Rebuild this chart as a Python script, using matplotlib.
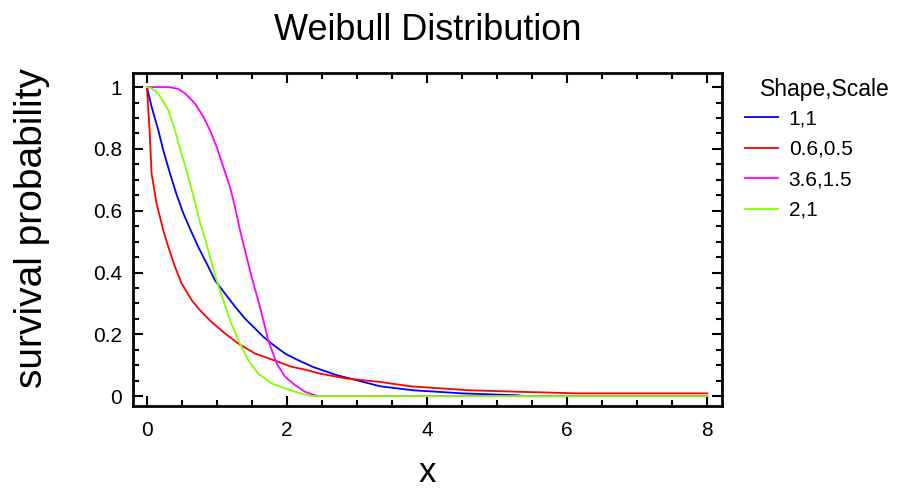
import numpy as np
import matplotlib
matplotlib.use('Agg')
import matplotlib.pyplot as plt
from matplotlib.ticker import MultipleLocator

plt.rcParams['font.family'] = ['Liberation Sans', 'DejaVu Sans']

# survival curves (x, S(x))
x_11 = [0, 0.067, 0.162, 0.233, 0.329, 0.424, 0.519, 0.638, 0.733, 0.852, 0.971, 1.114, 1.257,
        1.4, 1.543, 1.662, 1.781, 1.971, 2.162, 2.376, 2.71, 2.85, 3.33, 3.8, 4.09, 4.5,
        5.28, 5.4, 8.0]
s_11 = [1, 0.936, 0.861, 0.796, 0.721, 0.652, 0.592, 0.53, 0.483, 0.43, 0.375, 0.332, 0.29,
        0.251, 0.219, 0.192, 0.17, 0.138, 0.116, 0.094, 0.068, 0.06, 0.032, 0.019, 0.015, 0.009,
        0.003, 0.0, 0.0]

x_0605 = [0, 0.038, 0.067, 0.138, 0.186, 0.233, 0.305, 0.4, 0.495, 0.638, 0.757, 0.924, 1.114,
          1.305, 1.543, 1.876, 2.067, 2.257, 2.47, 2.85, 3.33, 3.76, 4.14, 4.61, 5.19, 6.14, 8.0]
s_0605 = [1, 0.861, 0.72, 0.623, 0.58, 0.537, 0.483, 0.419, 0.365, 0.311, 0.278, 0.24, 0.203,
          0.17, 0.138, 0.111, 0.095, 0.086, 0.073, 0.057, 0.046, 0.032, 0.026, 0.019, 0.015, 0.009, 0.009]

x_3615 = [0, 0.305, 0.448, 0.543, 0.686, 0.805, 0.9, 0.995, 1.09, 1.186, 1.257, 1.329, 1.4,
          1.495, 1.614, 1.733, 1.852, 1.971, 2.114, 2.257, 2.376, 2.45, 8.0]
s_3615 = [1, 1, 0.994, 0.98, 0.947, 0.904, 0.861, 0.807, 0.742, 0.677, 0.613, 0.537, 0.472,
          0.386, 0.289, 0.181, 0.106, 0.063, 0.036, 0.014, 0.005, 0.0, 0.0]

x_21 = [0, 0.067, 0.162, 0.305, 0.4, 0.471, 0.543, 0.614, 0.686, 0.757, 0.829, 0.9, 0.995,
        1.09, 1.186, 1.305, 1.448, 1.59, 1.781, 1.971, 2.162, 2.33, 2.4, 8.0]
s_21 = [1, 0.996, 0.98, 0.926, 0.861, 0.8, 0.748, 0.69, 0.628, 0.563, 0.51, 0.451, 0.375,
        0.311, 0.246, 0.181, 0.116, 0.073, 0.041, 0.025, 0.011, 0.001, 0.0, 0.0]

labels = ['1,1', '0.6,0.5', '3.6,1.5', '2,1']
colors = ['#0000ff', '#ff0000', '#ff00ff', '#80ff00']

fig = plt.figure(figsize=(8.98, 4.91), dpi=100)
ax = fig.add_axes([0.148, 0.173, 0.656, 0.678])

series = [(x_11, s_11), (x_0605, s_0605), (x_3615, s_3615), (x_21, s_21)]
for (xs, ys), lab, c in zip(series, labels, colors):
    ax.plot(xs, ys, color=c, lw=1.3, label=lab)

ax.set_xlim(-0.2, 8.21)
ax.set_ylim(-0.032, 1.045)
ax.xaxis.set_major_locator(MultipleLocator(2))
ax.xaxis.set_minor_locator(MultipleLocator(0.5))
ax.yaxis.set_major_locator(MultipleLocator(0.2))
ax.yaxis.set_minor_locator(MultipleLocator(0.05))
ax.set_yticks([0, 0.2, 0.4, 0.6, 0.8, 1.0])
ax.set_yticklabels(['0', '0.2', '0.4', '0.6', '0.8', '1'])
ax.tick_params(which='both', direction='in', top=True, right=True, width=1.5, labelsize=15)
ax.tick_params(which='major', length=7)
ax.tick_params(which='minor', length=4)
ax.tick_params(axis='x', pad=11)
ax.tick_params(axis='y', pad=8)
for sp in ax.spines.values():
    sp.set_linewidth(2)

ax.set_title('Weibull Distribution', fontsize=26, pad=24)
ax.set_xlabel('x', fontsize=25)
ax.xaxis.set_label_coords(0.5, -0.15)
ax.set_ylabel('survival probability', fontsize=28)
ax.yaxis.set_label_coords(-0.141, 0.535)

# legend title sits indented to the right of the handles
fig.text(0.846, 0.818, 'Shape,Scale', fontsize=16.5, va='center', ha='left')
leg = ax.legend(loc='upper left', bbox_to_anchor=(1.039, 0.891),
                frameon=False, fontsize=15, handlelength=1.6,
                labelspacing=0.55, handletextpad=0.5, borderaxespad=0, borderpad=0)

fig.savefig('out.png', dpi=100)
